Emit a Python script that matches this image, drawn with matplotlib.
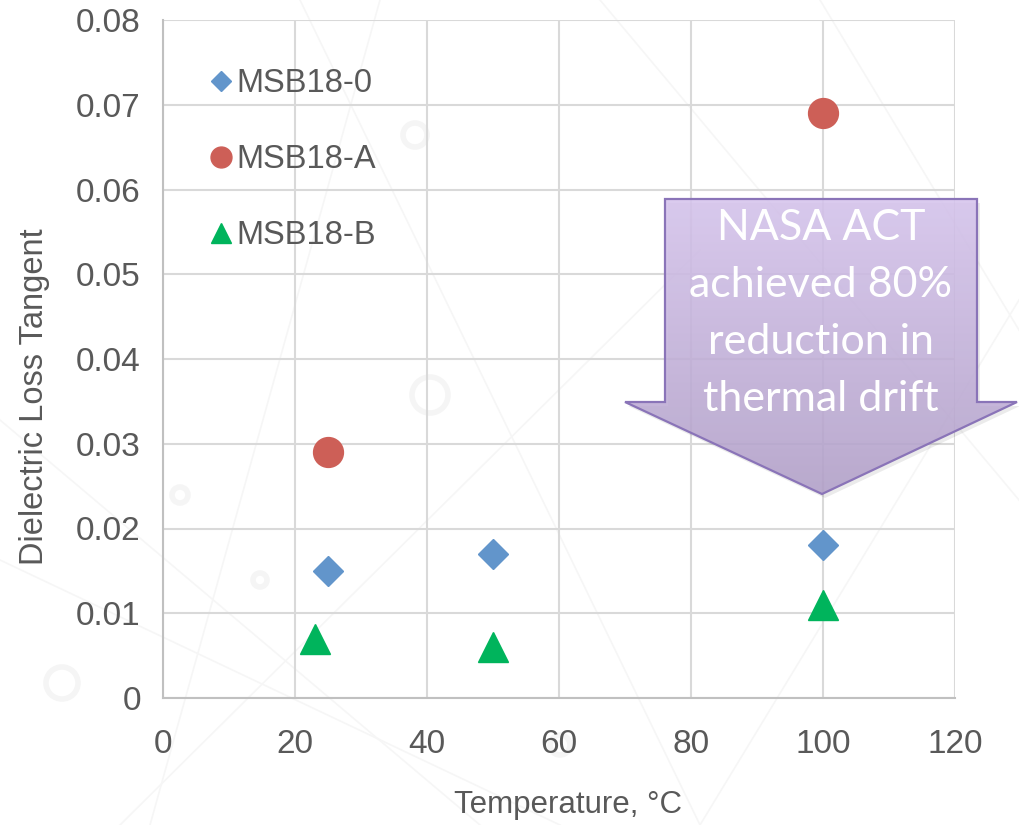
import numpy as np
import matplotlib
matplotlib.use("Agg")
import matplotlib.pyplot as plt
from matplotlib.patches import Polygon, Circle

# dielectric loss tangent vs temperature for the three resin systems
temp_0 = [25, 50, 100]
loss_0 = [0.015, 0.017, 0.018]
temp_a = [25, 100]
loss_a = [0.029, 0.069]
temp_b = [23, 50, 100]
loss_b = [0.007, 0.006, 0.011]

x_ticks = [0, 20, 40, 60, 80, 100, 120]
y_ticks = [0, 0.01, 0.02, 0.03, 0.04, 0.05, 0.06, 0.07, 0.08]
y_tick_labels = ["0", "0.01", "0.02", "0.03", "0.04", "0.05", "0.06", "0.07", "0.08"]

callout_lines = ["NASA ACT", "achieved 80%", "reduction in", "thermal drift"]

plt.rcParams["font.family"] = ["Liberation Sans", "DejaVu Sans"]
txt_col = "#595959"

W, H = 1019, 825
fig = plt.figure(figsize=(W / 100, H / 100), dpi=100)
fig.patch.set_facecolor("white")

# faint decorative background lines and rings
bg = fig.add_axes([0, 0, 1, 1], zorder=0)
bg.set_xlim(0, W)
bg.set_ylim(H, 0)
bg.axis("off")
for (x0, y0, x1, y1) in [(0, 560, 560, 825), (0, 420, 480, 825), (120, 825, 700, 250),
                         (300, 0, 700, 825), (600, 0, 1019, 500), (700, 825, 1019, 300),
                         (380, 0, 150, 825), (820, 0, 1019, 330)]:
    bg.plot([x0, x1], [y0, y1], color="#f6f6f6", lw=1.2, zorder=0)
for (cx, cy, r) in [(415, 135, 12), (430, 395, 18), (62, 683, 16), (180, 495, 8),
                    (560, 745, 10), (260, 580, 7)]:
    bg.add_patch(Circle((cx, cy), r, fill=False, ec="#f5f5f5", lw=4, zorder=0))

ax = fig.add_axes([163 / W, 1 - 698 / H, (955 - 163) / W, (698 - 20) / H], zorder=1)
ax.patch.set_alpha(0)

ax.plot(temp_0, loss_0, "D", color="#6295cb", ms=15, ls="none", label="MSB18-0", zorder=3)
ax.plot(temp_a, loss_a, "o", color="#cd5f57", ms=21.5, ls="none", label="MSB18-A", zorder=3)
ax.plot(temp_b, loss_b, "^", color="#00b45c", ms=21, ls="none", label="MSB18-B", zorder=3)

ax.set_xlim(0, 120)
ax.set_ylim(0, 0.08)
ax.set_xticks(x_ticks)
ax.set_yticks(y_ticks)
ax.set_yticklabels(y_tick_labels)
ax.grid(True, color="#d9d9d9", lw=1.5)
ax.set_axisbelow(True)
for s in ["top", "right"]:
    ax.spines[s].set_visible(False)
for s in ["left", "bottom"]:
    ax.spines[s].set_color("#c0c0c0")
    ax.spines[s].set_linewidth(1.5)
ax.tick_params(length=0, labelsize=24, labelcolor=txt_col)
ax.tick_params(axis="x", pad=22)
ax.tick_params(axis="y", pad=16)

ax.set_xlabel("Temperature, °C", fontsize=22.5, color=txt_col)
ax.set_ylabel("Dielectric Loss Tangent", fontsize=23.5, color=txt_col)
ax.xaxis.set_label_coords((568 - 163) / (955 - 163), -(805 - 698) / (698 - 20))
ax.yaxis.set_label_coords(-(163 - 35) / (955 - 163), (698 - 397) / (698 - 20))
ax.xaxis.label.set_va("center")
ax.yaxis.label.set_va("center")

leg = ax.legend(loc="upper left", bbox_to_anchor=(0.045, 0.948), frameon=False,
                fontsize=23.5, markerscale=0.7, handlelength=0.6, handletextpad=0.15,
                labelspacing=1.38, borderaxespad=0)
for t in leg.get_texts():
    t.set_color(txt_col)

# callout arrow with a vertical lavender gradient
ov = fig.add_axes([0, 0, 1, 1], zorder=4)
ov.set_xlim(0, W)
ov.set_ylim(H, 0)
ov.axis("off")
pts = [(665, 199), (977, 199), (977, 402), (1017, 402), (822, 494),
       (625, 402), (665, 402)]
shadow = Polygon([(x + 3, y + 4) for x, y in pts], closed=True, fc="#000000",
                 alpha=0.08, ec="none")
ov.add_patch(shadow)
grad = np.linspace(0, 1, 256).reshape(-1, 1)
top_c = np.array([0.84, 0.77, 0.93])
bot_c = np.array([0.70, 0.63, 0.79])
img = top_c + (bot_c - top_c) * grad[..., None]
img = img.reshape(256, 1, 3)
im = ov.imshow(img, extent=(625, 1017, 494, 199), aspect="auto", alpha=0.88, zorder=2)
arrow = Polygon(pts, closed=True, fc="none", ec="#8a74b8", lw=1.6, zorder=3)
ov.add_patch(arrow)
im.set_clip_path(arrow)
ov.set_xlim(0, W)
ov.set_ylim(H, 0)
for i, line in enumerate(callout_lines):
    ov.text(821, 228 + 57 * i, line, ha="center", va="center", fontsize=31,
            color="white", family=["Lato", "DejaVu Sans"], zorder=4)

fig.savefig("out.png", dpi=100)
